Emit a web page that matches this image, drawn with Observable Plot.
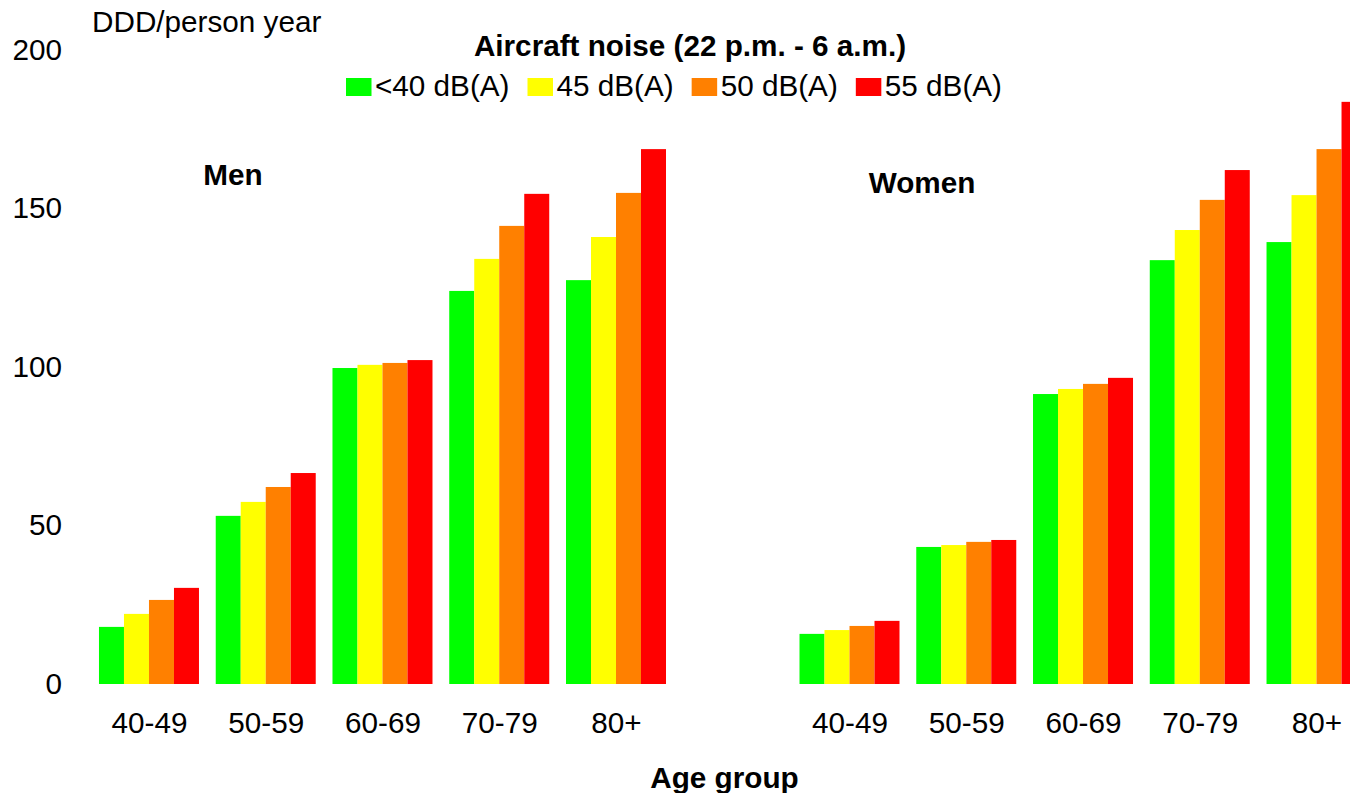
<!DOCTYPE html>
<html>
<head>
<meta charset="utf-8">
<script src="https://cdn.jsdelivr.net/npm/d3@7"></script>
<script src="https://cdn.jsdelivr.net/npm/@observablehq/plot@0.6"></script>
<style>
  html, body { margin: 0; padding: 0; background: #fff; overflow: hidden; }
  #chart { position: relative; width: 1350px; height: 793px; overflow: hidden; }
  #chart svg { overflow: hidden; }
</style>
</head>
<body>
<div id="chart"></div>
<script>
// ---- data ----
const ageGroups = ["40-49", "50-59", "60-69", "70-79", "80+"];
const sexes = ["Men", "Women"];
const noiseLevels = ["<40 dB(A)", "45 dB(A)", "50 dB(A)", "55 dB(A)"];
const noiseColors = ["#00ff00", "#ffff00", "#ff8000", "#ff0000"];
// values per age group, in noise level order
const menValues = [
  [18.0, 22.1, 26.5, 30.3],
  [53.0, 57.4, 62.1, 66.5],
  [99.6, 100.6, 101.2, 102.1],
  [123.9, 134.0, 144.4, 154.5],
  [127.3, 140.9, 154.8, 168.6]
];
const womenValues = [
  [15.8, 17.0, 18.3, 19.9],
  [43.2, 43.8, 44.8, 45.4],
  [91.4, 93.0, 94.6, 96.5],
  [133.6, 143.1, 152.6, 162.0],
  [139.3, 154.1, 168.6, 183.5]
];
const yTicks = [0, 50, 100, 150, 200];
const titleText = "Aircraft noise (22 p.m. - 6 a.m.)";
const yLabel = "DDD/person year";
const xLabel = "Age group";

// ---- build table ----
const valuesBySex = {Men: menValues, Women: womenValues};
const rows = [];
for (const sex of sexes) {
  ageGroups.forEach((age, i) => {
    noiseLevels.forEach((level, j) => {
      rows.push({sex, age, level, value: valuesBySex[sex][i][j], key: sex + "|" + age});
    });
  });
}
const fxDomain = [
  ...ageGroups.map(a => "Men|" + a),
  "gap",
  ...ageGroups.map(a => "Women|" + a)
];

const font = "Arial, 'Liberation Sans', sans-serif";
const fs = 29.7;

const plot = Plot.plot({
  width: 1350,
  height: 793,
  marginTop: 49.5,
  marginBottom: 109,
  marginLeft: 90.6,
  marginRight: -24.9,
  style: {fontFamily: font, fontSize: fs + "px", color: "#000", background: "#fff"},
  fx: {
    domain: fxDomain,
    paddingInner: 0.1435,
    paddingOuter: 0.07175,
    round: false,
    label: null,
    tickSize: 0,
    tickPadding: 27.5,
    tickFormat: k => (k.split("|")[1] ?? "")
  },
  x: {domain: noiseLevels, padding: 0, round: false, axis: null},
  y: {domain: [0, 200], label: null},
  color: {domain: noiseLevels, range: noiseColors},
  marks: [
    Plot.barY(rows, {fx: "key", x: "level", y: "value", fill: "level"}),
    Plot.axisY({ticks: yTicks, tickSize: 0, tickPadding: 37.5, label: null, facetAnchor: "left"})
  ]
});

document.getElementById("chart").appendChild(plot);

// ---- annotations (real SVG text) ----
const svg = d3.select(plot);
const g = svg.append("g").attr("font-family", font).attr("font-size", fs).attr("fill", "#000");

g.append("text").attr("x", 92).attr("y", 32).attr("text-anchor", "start").text(yLabel);
g.append("text").attr("x", 690).attr("y", 56).attr("text-anchor", "middle")
  .attr("font-weight", "bold").text(titleText);
g.append("text").attr("x", 233).attr("y", 185).attr("text-anchor", "middle")
  .attr("font-weight", "bold").text(sexes[0]);
g.append("text").attr("x", 922).attr("y", 193).attr("text-anchor", "middle")
  .attr("font-weight", "bold").text(sexes[1]);
g.append("text").attr("x", 724.5).attr("y", 788).attr("text-anchor", "middle")
  .attr("font-weight", "bold").text(xLabel);

// legend
let lx = 346;
noiseLevels.forEach((lvl, i) => {
  g.append("rect").attr("x", lx).attr("y", 78).attr("width", 25.5).attr("height", 18)
    .attr("fill", noiseColors[i]);
  const t = g.append("text").attr("x", lx + 29).attr("y", 96).attr("text-anchor", "start").text(lvl);
  const w = t.node().getComputedTextLength();
  lx = lx + 29 + w + 18;
});
</script>
</body>
</html>
